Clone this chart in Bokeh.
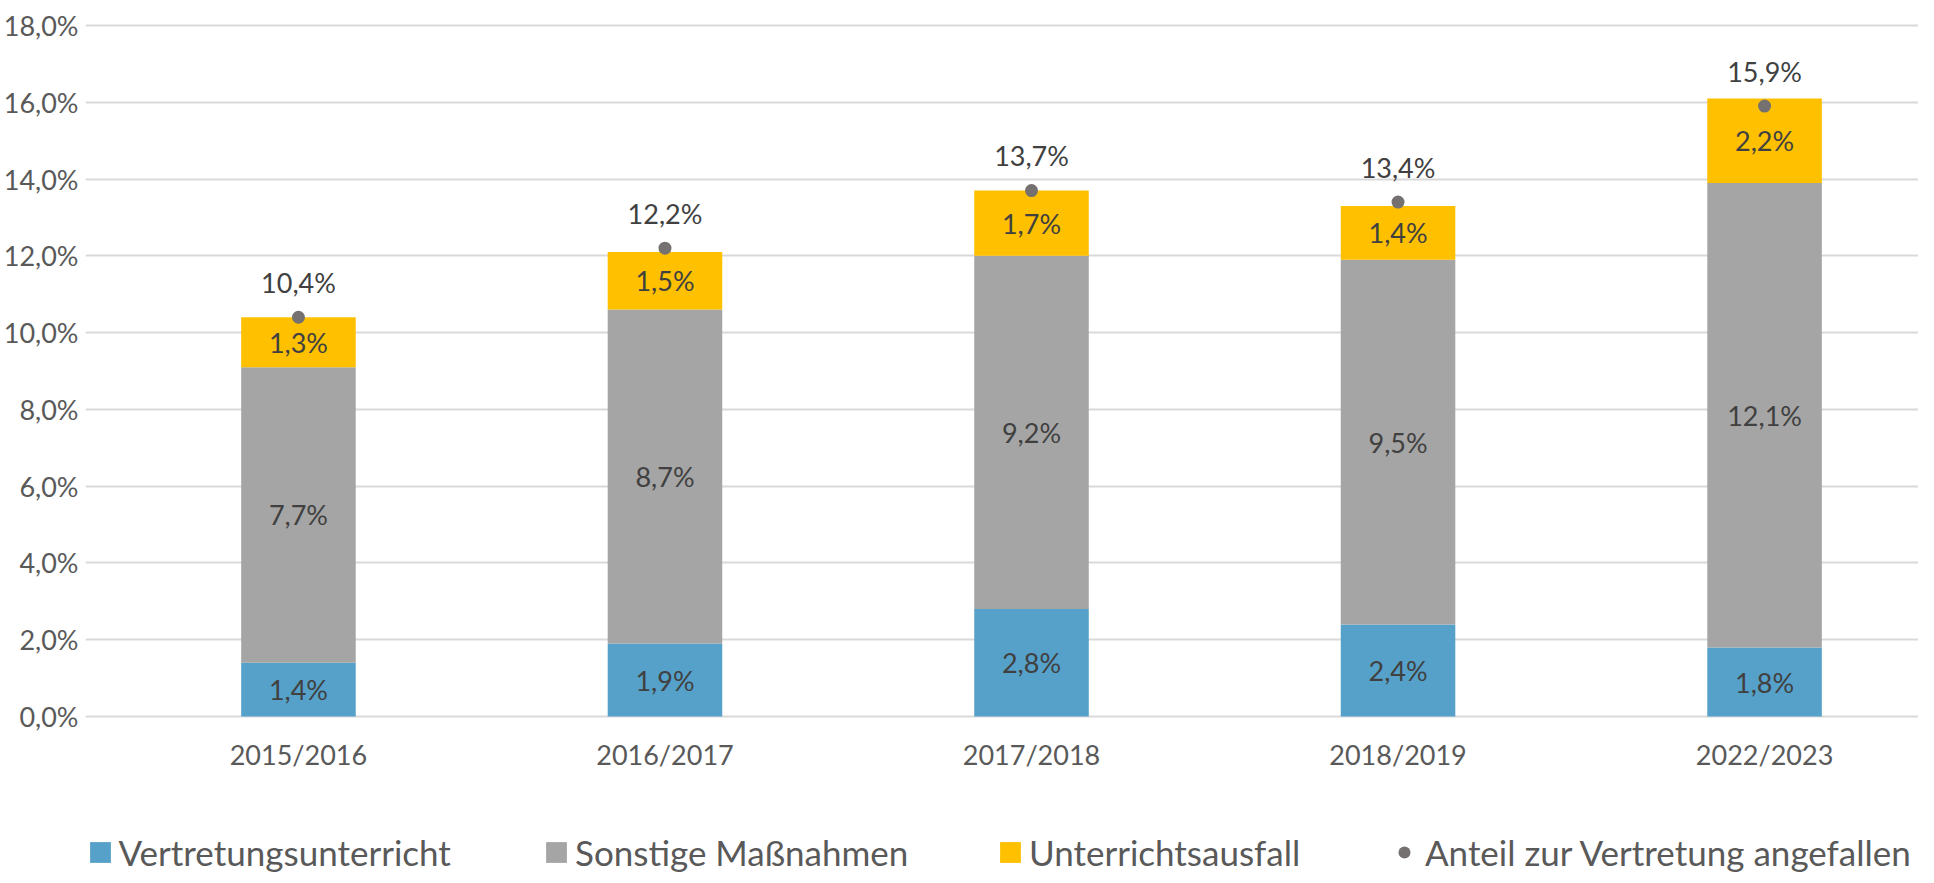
from bokeh.plotting import figure
from bokeh.models import Range1d, FixedTicker, Legend, LegendItem, ColumnDataSource
from bokeh.core.properties import value
from bokeh.embed import file_html
from bokeh.resources import INLINE

categories = ["2015/2016", "2016/2017", "2017/2018", "2018/2019", "2022/2023"]
vertretung = [1.4, 1.9, 2.8, 2.4, 1.8]
sonstige = [7.7, 8.7, 9.2, 9.5, 12.1]
ausfall = [1.3, 1.5, 1.7, 1.4, 2.2]
anteil = [10.4, 12.2, 13.7, 13.4, 15.9]
series_names = ["Vertretungsunterricht", "Sonstige Maßnahmen", "Unterrichtsausfall",
                "Anteil zur Vertretung angefallen"]
y_ticks = [0, 2, 4, 6, 8, 10, 12, 14, 16, 18]
y_tick_labels = ["0,0%", "2,0%", "4,0%", "6,0%", "8,0%", "10,0%", "12,0%", "14,0%", "16,0%", "18,0%"]

FONT = "Lato"
colors = ["#56A1C9", "#A5A5A5", "#FFC000"]
dot_color = "#767171"
label_color = "#404040"
axis_color = "#595959"


def fmt(v):
    return ("%.1f%%" % v).replace(".", ",")


x = list(range(len(categories)))

p = figure(width=1918, height=875, output_backend="svg", toolbar_location=None,
           x_range=Range1d(-0.581, 4.42), y_range=Range1d(-4.14, 18.078),
           min_border_left=76, min_border_right=0, min_border_top=22, min_border_bottom=0)
p.outline_line_color = None
p.background_fill_color = "white"
p.border_fill_color = "white"

src = ColumnDataSource(dict(x=x, v=vertretung, s=sonstige, a=ausfall))
rs = p.vbar_stack(["v", "s", "a"], x="x", width=0.3125, source=src, color=colors, line_color=None)

# segment labels
b0 = [0.0] * len(x)
for vals in (vertretung, sonstige, ausfall):
    mids = [b + v / 2 for b, v in zip(b0, vals)]
    p.text(x=x, y=mids, text=[fmt(v) for v in vals], text_align="center", text_baseline="middle",
           text_font=value(FONT), text_font_size="27px", text_color=label_color)
    b0 = [b + v for b, v in zip(b0, vals)]

dots = p.scatter(x=x, y=anteil, size=13, color=dot_color, line_color=None)
p.text(x=x, y=anteil, text=[fmt(v) for v in anteil], text_align="center", text_baseline="middle",
       y_offset=-35, text_font=value(FONT), text_font_size="27px", text_color=label_color)

# axes
p.xaxis.ticker = FixedTicker(ticks=x)
p.xaxis.major_label_overrides = {i: c for i, c in zip(x, categories)}
p.xaxis.fixed_location = 0
p.yaxis.ticker = FixedTicker(ticks=y_ticks)
p.yaxis.major_label_overrides = {t: l for t, l in zip(y_ticks, y_tick_labels)}
for ax in (p.xaxis, p.yaxis):
    ax.axis_line_color = None
    ax.major_tick_line_color = None
    ax.minor_tick_line_color = None
    ax.major_label_text_font = FONT
    ax.major_label_text_font_size = "27px"
    ax.major_label_text_color = axis_color
p.yaxis.major_label_standoff = 1
p.xaxis.major_label_standoff = 15

p.xgrid.grid_line_color = None
p.ygrid.grid_line_color = "#D9D9D9"
p.ygrid.grid_line_width = 2
p.ygrid.bounds = (-0.5, 4.42)

# one legend per entry, placed like the original
entries = [(series_names[0], rs[0], 1.5, 26),
           (series_names[1], rs[1], 458, 26),
           (series_names[2], rs[2], 912, 26),
           (series_names[3], dots, 1304, 30)]
for label, r, vx, gw in entries:
    lg = Legend(items=[LegendItem(label=label, renderers=[r])], location=(vx, 2),
                glyph_width=gw, glyph_height=gw, label_standoff=6,
                padding=0, margin=0, border_line_color=None, background_fill_alpha=0,
                label_text_font=FONT, label_text_font_size="35px", label_text_color=axis_color,
                label_height=34)
    p.add_layout(lg, "center")

open("out.html", "w").write(file_html(p, INLINE))
